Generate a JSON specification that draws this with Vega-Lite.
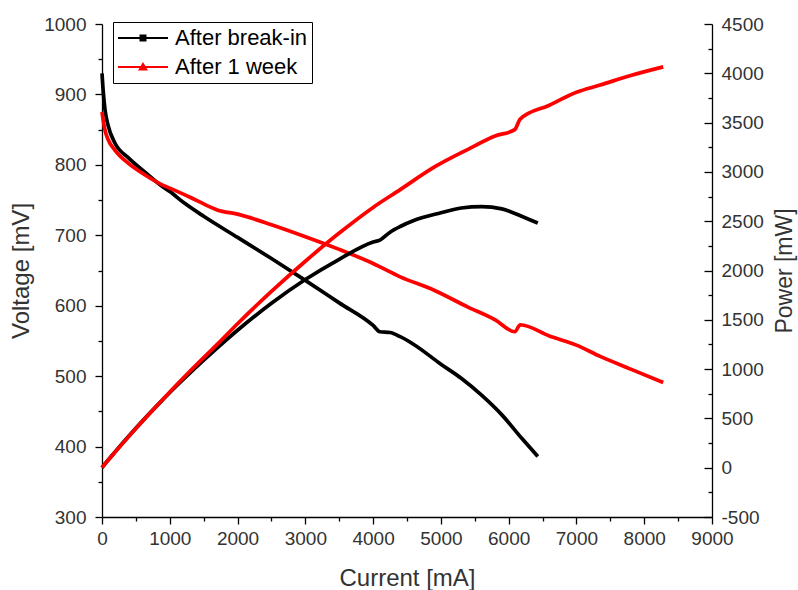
{
  "$schema": "https://vega.github.io/schema/vega-lite/v6.json",
  "width": 610,
  "height": 493,
  "autosize": {"type": "none"},
  "padding": {"left": 102, "top": 24, "right": 86, "bottom": 73},
  "background": "white",
  "config": {
    "view": {"stroke": null},
    "font": "Liberation Sans",
    "axis": {
      "grid": false,
      "domainColor": "black",
      "tickColor": "black",
      "labelColor": "#333333",
      "titleColor": "#333333",
      "labelFont": "Liberation Sans",
      "titleFont": "Liberation Sans",
      "labelFontSize": 19,
      "titleFontSize": 24,
      "titleFontWeight": "normal",
      "domainWidth": 1.3,
      "tickWidth": 1.3,
      "labelOverlap": false,
      "labelFlush": false,
      "format": "d"
    }
  },
  "data": {
    "values": [
      {"s": "After break-in", "I": 0, "V": 930, "P": 0},
      {"s": "After break-in", "I": 20, "V": 902, "P": 18},
      {"s": "After break-in", "I": 45, "V": 878, "P": 39.5},
      {"s": "After break-in", "I": 90, "V": 856, "P": 77},
      {"s": "After break-in", "I": 190, "V": 831, "P": 157.9},
      {"s": "After break-in", "I": 390, "V": 810, "P": 315.9},
      {"s": "After break-in", "I": 630, "V": 790, "P": 497.7},
      {"s": "After break-in", "I": 880, "V": 770, "P": 677.6},
      {"s": "After break-in", "I": 1000, "V": 762, "P": 762},
      {"s": "After break-in", "I": 1225, "V": 745, "P": 912.6},
      {"s": "After break-in", "I": 1500, "V": 727, "P": 1090.5},
      {"s": "After break-in", "I": 2000, "V": 697, "P": 1394},
      {"s": "After break-in", "I": 2500, "V": 667, "P": 1667.5},
      {"s": "After break-in", "I": 3000, "V": 636, "P": 1908},
      {"s": "After break-in", "I": 3500, "V": 604, "P": 2114},
      {"s": "After break-in", "I": 4000, "V": 572, "P": 2288},
      {"s": "After break-in", "I": 4100, "V": 563, "P": 2308.3},
      {"s": "After break-in", "I": 4250, "V": 562, "P": 2388.5},
      {"s": "After break-in", "I": 4400, "V": 556, "P": 2446.4},
      {"s": "After break-in", "I": 4600, "V": 545, "P": 2507},
      {"s": "After break-in", "I": 5000, "V": 517, "P": 2585},
      {"s": "After break-in", "I": 5300, "V": 497, "P": 2634.1},
      {"s": "After break-in", "I": 5600, "V": 473, "P": 2648.8},
      {"s": "After break-in", "I": 5900, "V": 445, "P": 2625.5},
      {"s": "After break-in", "I": 6200, "V": 411, "P": 2548.2},
      {"s": "After break-in", "I": 6430, "V": 386, "P": 2482},
      {"s": "After 1 week", "I": 0, "V": 875, "P": 0},
      {"s": "After 1 week", "I": 20, "V": 862, "P": 17.2},
      {"s": "After 1 week", "I": 45, "V": 849, "P": 38.2},
      {"s": "After 1 week", "I": 90, "V": 836, "P": 75.2},
      {"s": "After 1 week", "I": 190, "V": 821, "P": 156},
      {"s": "After 1 week", "I": 390, "V": 802, "P": 312.8},
      {"s": "After 1 week", "I": 630, "V": 786, "P": 495.2},
      {"s": "After 1 week", "I": 880, "V": 772, "P": 679.4},
      {"s": "After 1 week", "I": 1000, "V": 767, "P": 767},
      {"s": "After 1 week", "I": 1300, "V": 754, "P": 980.2},
      {"s": "After 1 week", "I": 1600, "V": 740, "P": 1184},
      {"s": "After 1 week", "I": 1700, "V": 736, "P": 1251.2},
      {"s": "After 1 week", "I": 2000, "V": 730, "P": 1460},
      {"s": "After 1 week", "I": 2500, "V": 715, "P": 1787.5},
      {"s": "After 1 week", "I": 3000, "V": 698, "P": 2094},
      {"s": "After 1 week", "I": 3500, "V": 680, "P": 2380},
      {"s": "After 1 week", "I": 4000, "V": 660, "P": 2640},
      {"s": "After 1 week", "I": 4400, "V": 641, "P": 2820.4},
      {"s": "After 1 week", "I": 4900, "V": 622, "P": 3047.8},
      {"s": "After 1 week", "I": 5400, "V": 598, "P": 3229.2},
      {"s": "After 1 week", "I": 5800, "V": 580, "P": 3364},
      {"s": "After 1 week", "I": 6090, "V": 563, "P": 3428.7},
      {"s": "After 1 week", "I": 6170, "V": 573, "P": 3535.4},
      {"s": "After 1 week", "I": 6600, "V": 557, "P": 3676.2},
      {"s": "After 1 week", "I": 7000, "V": 544, "P": 3808},
      {"s": "After 1 week", "I": 7350, "V": 528, "P": 3880.8},
      {"s": "After 1 week", "I": 7800, "V": 510, "P": 3978},
      {"s": "After 1 week", "I": 8280, "V": 491, "P": 4065.5}
    ]
  },
  "encoding": {
    "x": {
      "field": "I",
      "type": "quantitative",
      "scale": {"domain": [0, 9000], "nice": false, "zero": false},
      "axis": {
        "title": "Current [mA]",
        "values": [0, 500, 1000, 1500, 2000, 2500, 3000, 3500, 4000, 4500, 5000, 5500, 6000, 6500, 7000, 7500, 8000, 8500, 9000],
        "labelExpr": "datum.value % 1000 === 0 ? datum.label : ''",
        "tickSize": {"condition": {"test": "datum.value % 1000 === 0", "value": 7}, "value": 4},
        "labelPadding": 5,
        "titlePadding": 18
      }
    },
    "color": {
      "field": "s",
      "type": "nominal",
      "scale": {"domain": ["After break-in", "After 1 week"], "range": ["#000000", "#ff0000"]},
      "legend": {
        "title": null,
        "orient": "none",
        "legendX": 11,
        "legendY": -2,
        "strokeColor": "black",
        "fillColor": "white",
        "padding": 4,
        "labelFontSize": 22,
        "labelColor": "black",
        "labelFont": "Liberation Sans",
        "symbolType": "M-1,0H1M-0.1,-0.1H0.1V0.1H-0.1Z",
        "symbolSize": 2500,
        "symbolStrokeWidth": 2,
        "labelOffset": 6,
        "rowPadding": 5,
        "clipHeight": 24,
        "encode": {
          "symbols": {
            "update": {
              "fill": {"scale": "color", "field": "value"},
              "shape": {"signal": "datum.value === 'After break-in' ? 'M-1,0H1M-0.1,-0.1H0.1V0.1H-0.1Z' : 'M-1,0H1M-0.13,0.1L0,-0.12L0.13,0.1Z'"}
            }
          }
        }
      }
    }
  },
  "layer": [
    {
      "mark": {"type": "line", "strokeWidth": 3.7, "interpolate": "monotone"},
      "encoding": {
        "y": {
          "field": "V",
          "type": "quantitative",
          "scale": {"domain": [300, 1000], "nice": false, "zero": false},
          "axis": {
            "title": "Voltage [mV]",
            "values": [300, 350, 400, 450, 500, 550, 600, 650, 700, 750, 800, 850, 900, 950, 1000],
            "labelExpr": "datum.value % 100 === 0 ? datum.label : ''",
            "tickSize": {"condition": {"test": "datum.value % 100 === 0", "value": 7}, "value": 4},
            "labelPadding": 9,
            "titlePadding": 10
          }
        }
      }
    },
    {
      "mark": {"type": "line", "strokeWidth": 3.7, "interpolate": "monotone"},
      "encoding": {
        "y": {
          "field": "P",
          "type": "quantitative",
          "scale": {"domain": [-500, 4500], "nice": false, "zero": false},
          "axis": {
            "orient": "right",
            "title": "Power [mW]",
            "titleAngle": 270,
            "titleFontSize": 23,
            "values": [-500, -250, 0, 250, 500, 750, 1000, 1250, 1500, 1750, 2000, 2250, 2500, 2750, 3000, 3250, 3500, 3750, 4000, 4250, 4500],
            "labelExpr": "datum.value % 500 === 0 ? '' + datum.value : ''",
            "tickSize": {"condition": {"test": "datum.value % 500 === 0", "value": -8}, "value": -4},
            "labelPadding": 17,
            "titlePadding": 33
          }
        }
      }
    }
  ],
  "resolve": {"scale": {"y": "independent"}}
}
